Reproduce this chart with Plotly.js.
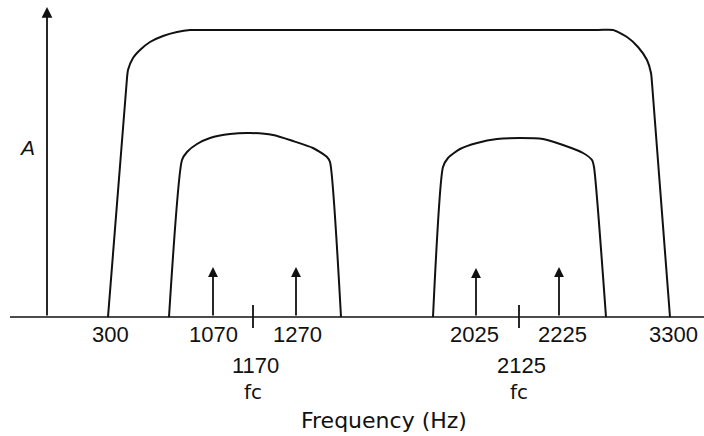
<!DOCTYPE html>
<html>
<head>
<meta charset="utf-8">
<script src="https://cdn.plot.ly/plotly-3.0.1.min.js"></script>
<style>html,body{margin:0;padding:0;background:#fff;}#chart{width:704px;height:436px;}</style>
</head>
<body>
<div id="chart"></div>
<script>
// Schematic units: x = position along the frequency axis, y = relative amplitude A (0 = baseline)
// Telephone channel passband (300 - 3300 Hz)
const wideBandX = [108, 127, 128, 133, 140, 150, 163, 177, 190, 205, 400, 598, 613, 627, 638, 647, 651, 652, 670];
const wideBandY = [0, 239, 247, 259, 267, 275, 281, 285, 287, 287, 287, 287, 287, 280, 270, 257, 244, 234, 0];
// Low channel filter (fc = 1170 Hz)
const lowBandX = [169, 182, 187, 197, 210, 230, 250, 273, 293, 313, 327, 330, 341];
const lowBandY = [0, 157, 165, 173, 179, 183, 184, 182, 176, 169, 160, 155, 0];
// High channel filter (fc = 2125 Hz)
const highBandX = [433, 443, 448, 460, 477, 497, 520, 543, 563, 583, 592, 594, 606];
const highBandY = [0, 150, 159, 168, 174, 178, 179, 178, 172, 164, 157, 150, 0];
// Mark/space tones
const toneLabels = ['1070', '1270', '2025', '2225'];
const toneX = [213, 296, 476, 559];
const toneHeight = [50, 50, 49, 50];
// Carrier (centre) frequencies
const centerLabels = ['1170', '2125'];
const centerX = [253, 519];
// Band edges
const edgeLabels = ['300', '3300'];
const edgeX = [110, 673];

const black = '#111111';
const traces = [];
function addLine(x, y, w, smooth) {
  traces.push({type: 'scatter', mode: 'lines', x: x, y: y,
    line: smooth ? {color: black, width: w, shape: 'spline', smoothing: 0.6} : {color: black, width: w},
    hoverinfo: 'skip', showlegend: false});
}
// baseline
addLine([10, 704], [0, 0], 1.3);
// envelopes
addLine(wideBandX, wideBandY, 2, true);
addLine(lowBandX, lowBandY, 2, true);
addLine(highBandX, highBandY, 2, true);
// centre tick marks
centerX.forEach(function (cx) { addLine([cx, cx], [12, -11], 1.8); });

const annotations = [];
// vertical amplitude axis with arrow
annotations.push({x: 47, y: 310, ax: 47, ay: 0, xref: 'x', yref: 'y', axref: 'x', ayref: 'y',
  showarrow: true, arrowhead: 2, arrowsize: 1.2, arrowwidth: 1.8, arrowcolor: black, text: ''});
// tone arrows
toneX.forEach(function (tx, i) {
  annotations.push({x: tx, y: toneHeight[i], ax: tx, ay: 0, xref: 'x', yref: 'y', axref: 'x', ayref: 'y',
    showarrow: true, arrowhead: 2, arrowsize: 1.1, arrowwidth: 1.8, arrowcolor: black, text: ''});
});
const numFont = {family: 'Liberation Sans, Arial, sans-serif', size: 22, color: black};
const txtFont = {family: 'DejaVu Sans, sans-serif', size: 20, color: black};
const titleFont = {family: 'DejaVu Sans, sans-serif', size: 22, color: black};
function label(x, y, t, f) {
  annotations.push({x: x, y: y, xref: 'x', yref: 'y', text: t, showarrow: false,
    xanchor: 'center', yanchor: 'middle', font: f});
}
const rowLabelX = [edgeX[0], toneX[0], toneX[1] + 1, toneX[2] - 2, toneX[3] + 3, edgeX[1]];
const rowLabelT = [edgeLabels[0], toneLabels[0], toneLabels[1], toneLabels[2], toneLabels[3], edgeLabels[1]];
rowLabelX.forEach(function (x, i) { label(x, -17, rowLabelT[i], numFont); });
centerX.forEach(function (cx, i) {
  label(cx + 2, -48, centerLabels[i], numFont);
  label(cx, -75, 'fc', txtFont);
});
label(384, -103, 'Frequency (Hz)', titleFont);
label(27, 170, '<i>A</i>', {family: 'Liberation Sans, Arial, sans-serif', size: 21, color: black});

const layout = {
  width: 704, height: 436,
  margin: {l: 0, r: 0, t: 0, b: 0, pad: 0},
  paper_bgcolor: '#ffffff', plot_bgcolor: '#ffffff',
  xaxis: {range: [0, 704], visible: false, fixedrange: true},
  yaxis: {range: [-119, 317], visible: false, fixedrange: true},
  annotations: annotations,
  showlegend: false
};
Plotly.newPlot('chart', traces, layout, {staticPlot: true, displayModeBar: false});
</script>
</body>
</html>
